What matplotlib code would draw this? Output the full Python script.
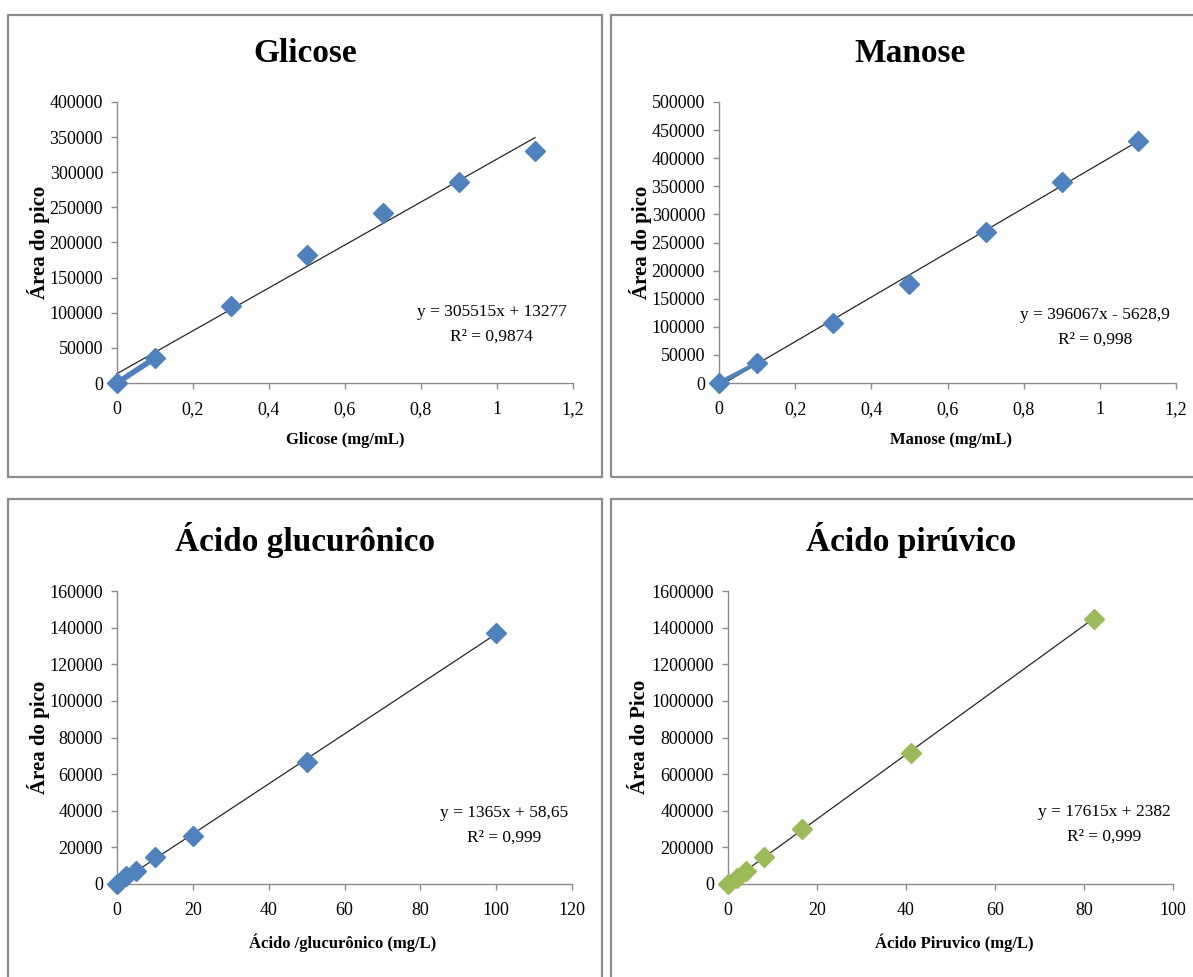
import matplotlib
matplotlib.use('Agg')

import matplotlib.pyplot as plt
from matplotlib.patches import Rectangle
from matplotlib.ticker import FuncFormatter, MultipleLocator

W, H = 1193, 977

# Glicose
glic_x = [0, 0.1, 0.3, 0.5, 0.7, 0.9, 1.1]
glic_y = [0, 35600, 110200, 182900, 241800, 286500, 329700]
glic_fit = (305515, 13277)

# Manose
man_x = [0, 0.1, 0.3, 0.5, 0.7, 0.9, 1.1]
man_y = [0, 35600, 106300, 176400, 268400, 357500, 430500]
man_fit = (396067, -5628.9)

# Acido glucuronico
glu_x = [0, 2.5, 5, 10, 20, 50, 100]
glu_y = [0, 4200, 7200, 14700, 26400, 66700, 137000]
glu_fit = (1365, 58.65)

# Acido piruvico
pir_x = [0, 2.1, 4.1, 8.2, 16.6, 41.2, 82.3]
pir_y = [0, 32700, 69000, 145000, 300000, 714000, 1449000]
pir_fit = (17615, 2382)

BLUE = '#4F81BD'
GREEN = '#9BBB59'
GRAY = '#8C8C8C'

plt.rcParams['font.family'] = ['Liberation Serif', 'DejaVu Serif']

fig = plt.figure(figsize=(W / 100, H / 100), dpi=100)
fig.patch.set_facecolor('white')


def fx(px):
    return px / W


def fy(py):
    return 1 - py / H


def frame(x0, y0, x1, y1):
    r = Rectangle((fx(x0), fy(y1)), fx(x1) - fx(x0), fy(y0) - fy(y1),
                  transform=fig.transFigure, fill=False, ec=GRAY, lw=1.6)
    fig.patches.append(r)


def comma(v, pos):
    s = ('%g' % round(v, 6)).replace('.', ',')
    return s


def panel(box, xs, ys, fit, color, xmax, xstep, ymax, ystep, title, xlabel,
          ylabel, tpos, xlpos, ylpos, eqpos, eq, r2, seg=None):
    x0, y0, x1, y1 = box
    ax = fig.add_axes([fx(x0), fy(y1), fx(x1) - fx(x0), fy(y0) - fy(y1)])
    ax.set_xlim(0, xmax)
    ax.set_ylim(0, ymax)
    ax.xaxis.set_major_locator(MultipleLocator(xstep))
    ax.yaxis.set_major_locator(MultipleLocator(ystep))
    ax.xaxis.set_major_formatter(FuncFormatter(comma))
    ax.yaxis.set_major_formatter(FuncFormatter(lambda v, p: '%d' % round(v)))
    for s in ['top', 'right']:
        ax.spines[s].set_visible(False)
    for s in ['left', 'bottom']:
        ax.spines[s].set_color(GRAY)
        ax.spines[s].set_linewidth(1)
    ax.tick_params(axis='both', colors=GRAY, length=4, width=1,
                   labelcolor='black', labelsize=13)
    ax.tick_params(axis='x', pad=9)
    ax.tick_params(axis='y', pad=6)

    m, b = fit
    ax.plot([0, xs[-1]], [b, m * xs[-1] + b], color='#262626', lw=0.9,
            zorder=2, clip_on=False)
    if seg:
        ax.plot(xs[:2], ys[:2], color=color, lw=seg, zorder=3,
                solid_capstyle='butt', clip_on=False)
    ax.plot(xs, ys, 'D', color=color, ms=10, mec=color, zorder=4,
            clip_on=False)

    fig.text(fx(tpos[0]), fy(tpos[1]), title, ha='center', va='center',
             fontsize=24, fontweight='bold')
    fig.text(fx(xlpos[0]), fy(xlpos[1]), xlabel, ha='center', va='center',
             fontsize=12, fontweight='bold')
    fig.text(fx(ylpos[0]), fy(ylpos[1]), ylabel, ha='center', va='center',
             fontsize=15, fontweight='bold', rotation=90)
    fig.text(fx(eqpos[0]), fy(eqpos[1]), eq, ha='center', va='center',
             fontsize=12.5)
    fig.text(fx(eqpos[0]), fy(eqpos[1] + 25), r2, ha='center',
             va='center', fontsize=12.5)
    return ax


frame(8, 15, 602, 477)
frame(611, 15, 1205, 477)
frame(8, 499, 602, 990)
frame(611, 499, 1205, 990)

panel((117, 102, 573, 383), glic_x, glic_y, glic_fit, BLUE, 1.2, 0.2,
      400000, 50000, 'Glicose', 'Glicose (mg/mL)', 'Área do pico',
      (305, 53), (345, 440), (38, 242), (492, 312),
      'y = 305515x + 13277', 'R² = 0,9874', seg=4)

panel((719, 102, 1176, 383), man_x, man_y, man_fit, BLUE, 1.2, 0.2,
      500000, 50000, 'Manose', 'Manose (mg/mL)', 'Área do pico',
      (910, 53), (951, 440), (640, 242), (1095, 315),
      'y = 396067x - 5628,9', 'R² = 0,998', seg=3)

panel((117, 591, 572, 884), glu_x, glu_y, glu_fit, BLUE, 120, 20,
      160000, 20000, 'Ácido glucurônico', 'Ácido /glucurônico (mg/L)',
      'Área do pico', (305, 540), (343, 943), (38, 737), (504, 813),
      'y = 1365x + 58,65', 'R² = 0,999')

panel((728, 591, 1173, 884), pir_x, pir_y, pir_fit, GREEN, 100, 20,
      1600000, 200000, 'Ácido pirúvico', 'Ácido Piruvico (mg/L)',
      'Área do Pico', (911, 540), (954, 943), (640, 737), (1104, 812),
      'y = 17615x + 2382', 'R² = 0,999')

plt.savefig('out.png', dpi=100)
